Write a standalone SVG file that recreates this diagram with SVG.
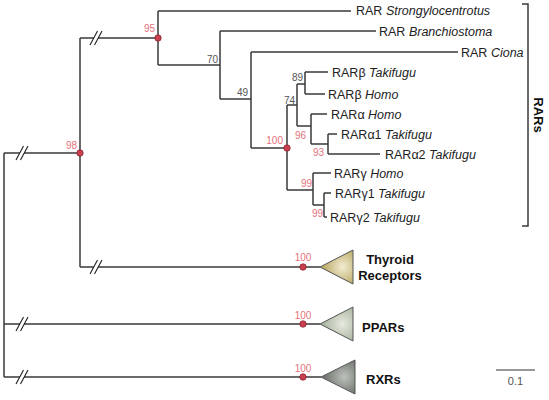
<svg xmlns="http://www.w3.org/2000/svg" width="549" height="400" viewBox="0 0 549 400">
<style>
.br{fill:none;stroke:#3a3a3a;stroke-width:1.5;stroke-linecap:butt}
.sl{fill:none;stroke:#222;stroke-width:1.1}
.gap{stroke:#fff;stroke-width:2.6}
.lab{font-family:"Liberation Sans",Arial,sans-serif;font-size:12.5px;fill:#222}
.sp{font-style:italic}
.bs{font-family:"Liberation Sans",Arial,sans-serif;font-size:10px;text-anchor:end}
.red{fill:#e5727a}
.gry{fill:#555}
.dot{fill:#c9404f;stroke:#8a2232;stroke-width:0.8}
.grp{font-family:"Liberation Sans",Arial,sans-serif;font-size:13px;font-weight:bold;fill:#111}
.tri{stroke:#555;stroke-width:1}
</style>
<defs>
<radialGradient id="gT" cx="0.68" cy="0.5" r="0.6"><stop offset="0" stop-color="#f2ecd2"/><stop offset="1" stop-color="#b9a864"/></radialGradient>
<radialGradient id="gP" cx="0.68" cy="0.5" r="0.6"><stop offset="0" stop-color="#e6eadf"/><stop offset="1" stop-color="#a8b39e"/></radialGradient>
<radialGradient id="gR" cx="0.68" cy="0.5" r="0.6"><stop offset="0" stop-color="#bdc1bc"/><stop offset="1" stop-color="#6c716c"/></radialGradient>
</defs>
<g id="connectors">
<path class="br" d="M4,153V377 M4,153H80 M4,324H320 M4,377H321"/>
<path class="br" d="M80,38V267 M80,38H158 M80,267H320"/>
<path class="br" d="M158,11V65 M158,11H351 M158,65H220"/>
<path class="br" d="M220,31V99 M220,31H376 M220,99H251"/>
<path class="br" d="M251,52V148 M251,52H458 M251,148H287"/>
<path class="br" d="M287,105V190 M287,105H297 M287,190H313"/>
<path class="br" d="M297,84V126 M297,84H305 M297,126H311"/>
<path class="br" d="M305,72V94 M305,72H328 M305,94H325"/>
<path class="br" d="M311,114V144 M311,114H327 M311,144H328"/>
<path class="br" d="M328,134V154 M328,134H337 M328,154H380"/>
<path class="br" d="M313,173V205 M313,173H331 M313,205H324"/>
<path class="br" d="M324,193V217 M324,193H331 M324,217H327"/>
<g id="breaks">
<path class="gap" d="M20,153H24 M94,38H98 M94,267H98 M20,324H24 M20,377H24"/>
<path class="sl" d="M16,160L23.5,146 M20.5,160L28,146"/>
<path class="sl" d="M90,45L97.5,31 M94.5,45L102,31"/>
<path class="sl" d="M90,274L97.5,260 M94.5,274L102,260"/>
<path class="sl" d="M16,331L23.5,317 M20.5,331L28,317"/>
<path class="sl" d="M16,384L23.5,370 M20.5,384L28,370"/>
</g>
</g>
<g id="n98"><circle class="dot" cx="80" cy="153" r="3.2"/><text class="bs red" x="77" y="149">98</text></g>
<g id="n95"><circle class="dot" cx="158" cy="38" r="3.2"/><text class="bs red" x="155" y="32">95</text></g>
<g id="n70"><text class="bs gry" x="218" y="63">70</text></g>
<g id="n49"><text class="bs gry" x="248" y="96">49</text></g>
<g id="n100"><circle class="dot" cx="287" cy="148" r="3.2"/><text class="bs red" x="283" y="144">100</text></g>
<g id="n74"><text class="bs gry" x="295" y="104">74</text></g>
<g id="n89"><text class="bs gry" x="303" y="81">89</text></g>
<g id="n96"><text class="bs red" x="306" y="139">96</text></g>
<g id="n93"><text class="bs red" x="324" y="156">93</text></g>
<g id="n99g"><text class="bs red" x="312" y="187">99</text></g>
<g id="n99g12"><text class="bs red" x="323" y="217">99</text></g>
<g id="leaf-strongylocentrotus"><text class="lab" x="356" y="15">RAR <tspan class="sp">Strongylocentrotus</tspan></text></g>
<g id="leaf-branchiostoma"><text class="lab" x="379" y="35.5">RAR <tspan class="sp">Branchiostoma</tspan></text></g>
<g id="leaf-ciona"><text class="lab" x="461" y="56.5">RAR <tspan class="sp">Ciona</tspan></text></g>
<g id="leaf-rarb-takifugu"><text class="lab" x="332" y="76.5">RARβ <tspan class="sp">Takifugu</tspan></text></g>
<g id="leaf-rarb-homo"><text class="lab" x="328" y="98.5">RARβ <tspan class="sp">Homo</tspan></text></g>
<g id="leaf-rara-homo"><text class="lab" x="331" y="118.5">RARα <tspan class="sp">Homo</tspan></text></g>
<g id="leaf-rara1-takifugu"><text class="lab" x="341" y="138.5">RARα1 <tspan class="sp">Takifugu</tspan></text></g>
<g id="leaf-rara2-takifugu"><text class="lab" x="385" y="158.5">RARα2 <tspan class="sp">Takifugu</tspan></text></g>
<g id="leaf-rarg-homo"><text class="lab" x="334" y="177.5">RARγ <tspan class="sp">Homo</tspan></text></g>
<g id="leaf-rarg1-takifugu"><text class="lab" x="335" y="197.5">RARγ1 <tspan class="sp">Takifugu</tspan></text></g>
<g id="leaf-rarg2-takifugu"><text class="lab" x="330" y="221.5">RARγ2 <tspan class="sp">Takifugu</tspan></text></g>
<g id="rars-bracket">
<path class="br" d="M522,4H528V226H522"/>
<text class="grp" transform="translate(534,115) rotate(90)" text-anchor="middle">RARs</text>
</g>
<g id="thyroid">
<circle class="dot" cx="303" cy="267" r="3.2"/>
<text class="bs red" x="303" y="260.5" text-anchor="middle" style="text-anchor:middle">100</text>
<polygon class="tri" points="320,267 353,250 353,284" fill="url(#gT)"/>
<text class="grp" x="390" y="263.5" text-anchor="middle">Thyroid</text>
<text class="grp" x="390" y="279.5" text-anchor="middle">Receptors</text>
</g>
<g id="ppars">
<circle class="dot" cx="303" cy="324" r="3.2"/>
<text class="bs red" x="303" y="318.5" style="text-anchor:middle">100</text>
<polygon class="tri" points="320,324 353,307 353,341" fill="url(#gP)"/>
<text class="grp" x="362" y="331.5">PPARs</text>
</g>
<g id="rxrs">
<circle class="dot" cx="303" cy="377" r="3.2"/>
<text class="bs red" x="303" y="371.5" style="text-anchor:middle">100</text>
<polygon class="tri" points="321,377 355,360 355,394" fill="url(#gR)"/>
<text class="grp" x="366" y="383.5">RXRs</text>
</g>
<g id="scalebar">
<path d="M496,370H535" stroke="#333" stroke-width="1.2"/>
<text x="515.5" y="385" text-anchor="middle" style="font-family:'Liberation Sans',Arial,sans-serif;font-size:11px;fill:#555">0.1</text>
</g>
</svg>
